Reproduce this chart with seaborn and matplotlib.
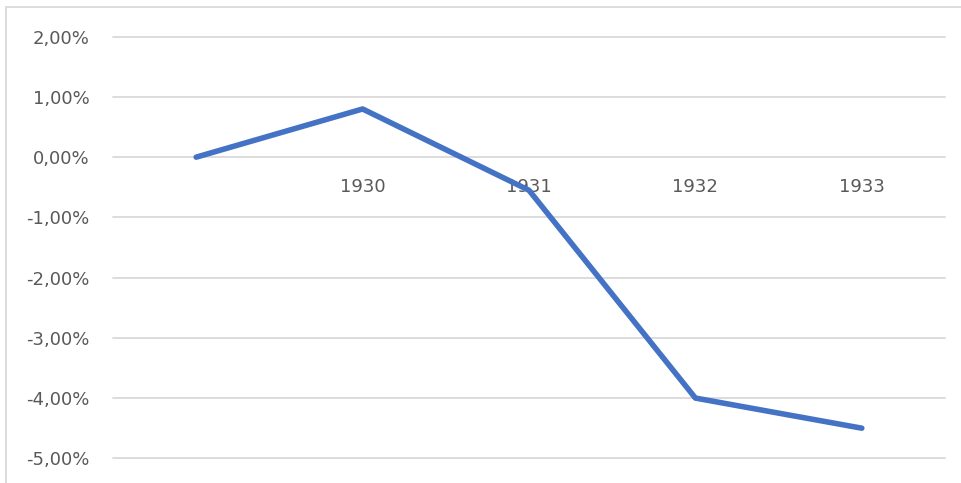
import matplotlib
matplotlib.use("Agg")
import matplotlib.pyplot as plt
import matplotlib.patches as mpatches
import matplotlib.ticker as mtick
import pandas as pd
import seaborn as sns

# dados
anos = ["", "1930", "1931", "1932", "1933"]
variacao = [0.0, 0.8, -0.55, -4.0, -4.5]   # em %
y_ticks = [-5, -4, -3, -2, -1, 0, 1, 2]

df = pd.DataFrame({"pos": range(len(anos)), "ano": anos, "var": variacao})

sns.set_style("white")
plt.rcParams["font.family"] = ["DejaVu Sans"]

fig = plt.figure(figsize=(9.62, 4.83), dpi=100)
ax = fig.add_axes([113 / 962, 1 - 458.3 / 483, (945 - 113) / 962, (458.3 - 36.7) / 483])

for y in y_ticks:
    ax.axhline(y, color="#d9d9d9", lw=1.3, zorder=0, clip_on=False)

sns.lineplot(data=df, x="pos", y="var", ax=ax, color="#4472c4", lw=4.0,
             solid_capstyle="round", solid_joinstyle="round", zorder=3)

ax.set_xlim(-0.5, len(anos) - 0.5)
ax.set_ylim(min(y_ticks), max(y_ticks))
ax.set_yticks(y_ticks)
ax.yaxis.set_major_formatter(mtick.FuncFormatter(lambda v, p: f"{v:.2f}%".replace(".", ",")))
ax.tick_params(axis="y", length=0, pad=17, labelsize=13, labelcolor="#595959")
ax.set_xticks([])
ax.set_xlabel(""); ax.set_ylabel("")
for s in ax.spines.values():
    s.set_visible(False)

# rótulos das categorias logo abaixo da linha do zero
for i, a in enumerate(anos):
    ax.text(i, -0.5, a, ha="center", va="center", fontsize=13, color="#595959", zorder=2)

# borda da área do gráfico
fig.patches.append(mpatches.Rectangle((6 / 962, -0.1), 1.0, 1.1 - 7 / 483,
                                      transform=fig.transFigure, fill=False,
                                      edgecolor="#d9d9d9", lw=1.3))

fig.savefig("out.png", dpi=100)
